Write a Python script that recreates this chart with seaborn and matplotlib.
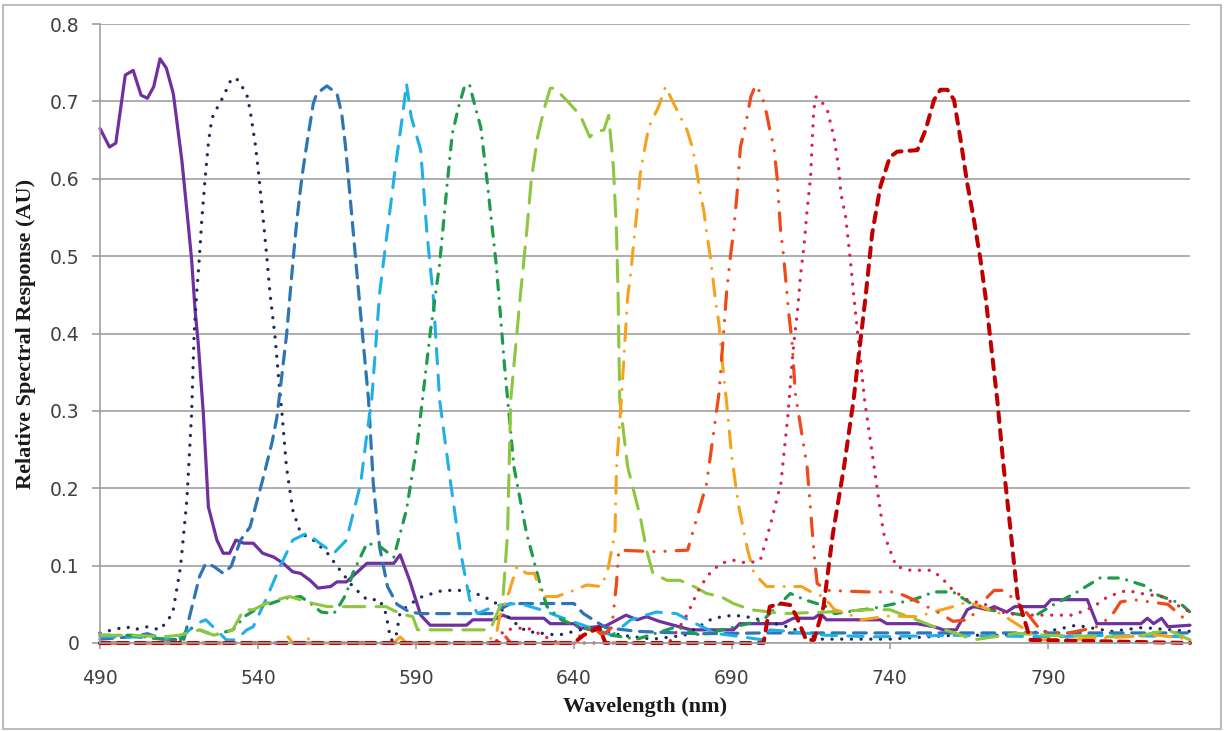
import numpy as np
import pandas as pd
import matplotlib
matplotlib.use("Agg")
import matplotlib.pyplot as plt
from matplotlib.patches import Rectangle
import seaborn as sns

# (wavelength nm, relative response)
purple = [(490, .665), (493, .641), (495, .646), (498, .734), (500.5, .740), (503, .708), (505, .704),
          (507, .719), (509, .755), (511, .743), (513.2, .71), (515.9, .624), (518, .538), (519, .495),
          (520.1, .43), (521.1, .387), (522.7, .297), (524.3, .176), (527, .133), (529, .116), (531, .116),
          (533, .133), (535.5, .129), (538.5, .129),
          (541.5, .116), (545, .111), (548, .103), (551, .092), (553.5, .090), (556.5, .081), (559, .071),
          (563, .073), (565, .079), (568, .079), (571, .090), (574.5, .103), (578.5, .103), (583, .103),
          (585, .114), (588, .081), (591.5, .036), (594.5, .023), (606, .023), (608, .030), (614.5, .030),
          (617.5, .036), (620, .032), (630.5, .032), (632.5, .025), (640, .025), (642, .019), (650, .022),
          (656.5, .036), (660, .030), (663, .034), (667, .028), (677, .017), (690.5, .017), (692.5, .025),
          (706, .025), (709.5, .032), (716, .032), (718, .038), (720, .030), (737, .030), (739, .025),
          (748.5, .025), (754, .021), (757, .017), (761, .017), (764.5, .043), (766.5, .047), (771, .043),
          (773, .047), (777, .040), (779.5, .047), (789, .047), (791, .056), (802.5, .056), (805.5, .025),
          (819.5, .025), (821.5, .032), (823.5, .025), (826, .032), (828, .021), (835, .023)]

navy = [(490, .013), (494, .017), (498.5, .021), (500.5, .017), (505, .021), (509, .017), (513, .038),
        (515.5, .099), (517.5, .185), (519, .297), (519.8, .40), (520.6, .452), (521.4, .495), (522.2, .546),
        (523.3, .602), (524.3, .646), (525.4, .678), (527, .691), (529, .706), (531.7, .73), (533.5, .728),
        (536.4, .71), (537.5, .689), (539.1, .646), (540.1, .611), (541.7, .546), (542.8, .499),
        (543.8, .452), (545.4, .396), (546.5, .344), (547.6, .297), (549, .228),
        (551, .172), (553.5, .142), (557.5, .133), (562, .116), (566, .094), (570, .073), (574.5, .056),
        (578.5, .056), (580.5, .038), (582, .004), (583.5, .004), (585, .04), (588, .05), (592, .06),
        (598.5, .068), (606, .068), (611.5, .06), (615.5, .051), (620, .03), (625, .015), (635, .01),
        (645, .02), (655, .01), (665, .005), (675, .01), (684, .032), (690.5, .036), (696, .033),
        (707.5, .021), (718, .005), (740, .005), (760, .01), (775, .01), (790, .015), (799, .023),
        (810, .015), (820, .02), (835, .015)]

blue = [(490, .005), (500, .008), (505, .012), (510, .005), (516.5, .004), (521.5, .086), (523.5, .103),
        (526, .099), (529, .090), (531.5, .099), (534.5, .133), (537.5, .150), (541.5, .211), (544.5, .26),
        (546, .292), (547.5, .344), (549.1, .40), (550.2, .452), (551.2, .499), (552.3, .546), (553.9, .602),
        (555.5, .646), (557.5, .697), (558.6, .71), (561.8, .72), (565, .71), (566.5, .684), (567.6, .646),
        (568.6, .602), (572, .447), (575, .314), (576.5, .206), (578.5, .124), (581, .073), (584, .05),
        (588, .04), (591.5, .038), (614, .038), (620, .051), (633, .051), (640, .051), (643, .038),
        (650, .02), (660, .015), (680, .012), (700, .013), (720, .013), (760, .013), (800, .013), (835, .013)]

light_blue = [(490, .008), (500, .008), (510, .005), (516, .008), (520.5, .025), (523.5, .030), (526, .020),
              (530, .004), (533, .004), (536.5, .017), (538.5, .021), (542.5, .056), (547, .099),
              (551, .133), (555.5, .142), (559.5, .129), (564, .116), (568, .133), (572.5, .206),
              (574.5, .271), (576, .314), (578.5, .452), (581, .534), (583.5, .615), (586, .689),
              (587, .723), (588.5, .680), (591.5, .637), (593.5, .529), (595.5, .447), (597.5, .314),
              (601, .206), (604, .120), (607, .056), (609.5, .038), (614.5, .047), (618, .05), (623, .051),
              (629.5, .043), (638, .03), (645, .02), (652, .01), (658, .03), (666, .040), (672.5, .038),
              (677, .028), (685, .0125), (700, .004), (702, .017), (708, .015), (720, .01), (735, .008),
              (760, .01), (790, .008), (810, .01), (835, .008)]

green = [(490, .01), (500, .01), (510, .005), (515.5, .004), (518, .02), (521.5, .017), (526, .01),
         (532, .017), (536, .035), (540, .045), (544, .051), (549, .058), (553.5, .060), (557, .05),
         (560, .04), (564, .038), (566, .05), (568, .064), (570, .090), (574.5, .129), (578.5, .125),
         (583, .111), (587, .172), (590.5, .26), (594.5, .40), (597.5, .49), (600, .598), (601.5, .658),
         (603.5, .693), (605.5, .721), (607, .721), (608.5, .697), (610.5, .667), (612.5, .598),
         (615.5, .486), (618, .36), (621, .228), (625, .142), (629.5, .073), (631.5, .047), (636, .03),
         (642, .02), (648, .015), (652, .01), (660, .005), (672.5, .021), (680, .01), (690, .02),
         (700, .03), (708.5, .064), (713, .056), (720, .047), (722.5, .038), (735, .045), (747.5, .056),
         (754, .066), (760, .066), (768, .045), (776, .04), (785.5, .034), (792, .05), (798.5, .064),
         (806.5, .084), (813, .084), (821.5, .073), (823.5, .064), (832, .051), (835, .04)]

light_green = [(490, .01), (500.5, .01), (510, .008), (515, .01), (521.5, .017), (526, .01), (532, .017),
               (535.5, .043), (538.5, .043), (542.5, .051), (546, .056), (550, .06), (557.5, .051),
               (562, .047), (580.5, .047), (585, .038), (589, .034), (590.5, .017), (613.5, .017),
               (617.5, .056), (619, .142), (620, .314), (623, .447), (625, .529), (626.5, .598),
               (628.5, .654), (630.5, .689), (632.5, .717), (634, .717), (638, .700), (642, .682),
               (645, .654), (647, .661), (649.5, .663), (651, .682), (652.5, .615), (653.5, .529),
               (654, .447), (654.5, .314), (657, .228), (661, .163), (663, .120), (665, .090), (669.5, .081),
               (673.5, .081), (678, .073), (682, .064), (686.5, .060), (690.5, .051), (696, .043),
               (706.5, .038), (720, .04), (733, .043), (740, .043), (748.5, .030), (754, .021), (761, .0125),
               (766.5, .004), (773, .008), (780, .0125), (790, .01), (810, .008), (820, .01), (828, .017),
               (835, .004)]

orange = [(490, 0), (548, 0), (549.5, .008), (551, 0), (554, 0), (555.5, .008), (557, 0), (583, 0),
          (585, .008), (587, 0), (612, 0), (615.5, .0125), (616.5, .034), (619, .06), (622, .099),
          (625, .09), (627.5, .090), (630, .06), (634.5, .060), (640, .068), (644, .075), (648.5, .073),
          (650.5, .090), (653, .142), (653.5, .228), (655, .314), (657, .447), (658, .478), (659, .521),
          (660, .559), (661, .607), (662.5, .641), (663.7, .667), (666.8, .693), (669, .719), (671.6, .697),
          (675.8, .663), (677.4, .642), (678.5, .620), (680, .581), (681.1, .559), (682.2, .525),
          (683.2, .499), (684.8, .443), (685.9, .413), (686.9, .366), (688.3, .312), (690, .24),
          (692, .18), (695, .120), (697, .090), (701, .073), (712, .073), (716, .064),
          (719, .06), (722.5, .043), (726.5, .038), (731, .030), (740, .035), (748.5, .034), (760, .047),
          (764.5, .053), (775, .038), (781.5, .021), (787.5, .004), (800, .005), (815, .008), (825, .01),
          (835, .005)]

red_orange = [(490, 0), (615, 0), (618, .01), (620, 0), (640, 0), (643, .015), (646, .02), (649, .01),
              (652, .02), (653.5, .078), (654.2, .12), (666, .118), (676, .120), (682, .206), (685.9, .322),
              (687.2, .391), (688.3, .452), (689.4, .495), (690.6, .534), (691.6, .579), (692.7, .641),
              (694, .663), (695, .684), (696, .706), (697.5, .721), (699.5, .708), (701, .684), (702, .663),
              (703.3, .641), (704.3, .602), (705.4, .534), (706.4, .499), (708, .426), (709, .391),
              (710.1, .322), (713.8, .228),
              (716, .116), (717, .077), (720, .068), (733, .066), (742, .066), (748, .055), (756, .038),
              (760, .028), (765, .03), (771, .06), (773, .068), (776, .068), (779.5, .056), (783.5, .038),
              (788, .015), (796, .0125), (805, .02), (810, .034), (813, .053), (817, .056), (828, .05),
              (835, .025)]

crimson = [(490, 0), (615, 0), (618, .017), (625, .02), (630, .01), (635, 0), (670, 0), (673.5, .021),
           (676, .038), (678, .056), (680, .073), (683, .090), (686.5, .103), (690.5, .107), (695, .103),
           (699, .107), (702, .150), (705.5, .206), (707.8, .297), (708.6, .34), (709.6, .387), (710.7, .426),
           (711.8, .478), (712.8, .512), (713.8, .559), (714.9, .602), (715.4, .646), (715.9, .689),
           (716.7, .706), (718, .702), (720.2, .689), (722.3, .654), (723.9, .611), (724.5, .581),
           (726, .551), (727.5, .495), (728.5, .452), (732, .314), (735, .228),
           (738, .142), (742, .099), (746.5, .094), (753, .094), (756, .086), (760, .068), (764.5, .056),
           (770, .05), (777, .038), (784, .036), (792, .036), (798, .036), (804.5, .047), (809, .060),
           (815, .068), (819.5, .064), (826, .060), (830, .051), (835, .04)]

dark_red = [(490, 0), (640, 0), (643, .01), (648, .02), (650, 0), (700, 0), (702, .047), (705.5, .051),
            (708.5, .049), (710.5, .034), (713.5, .004), (716, .004), (719, .047), (722, .142), (725.5, .228),
            (728.5, .314), (732.3, .447), (734.4, .529), (737, .590), (740, .628), (742.3, .635),
            (748.7, .637), (751.3, .663), (754, .702), (756, .715), (758.2, .715), (760.3, .702),
            (762.4, .650), (764.5, .594), (766.6, .547), (768.7, .495), (770.3, .447), (774, .314),
            (776, .228), (778.3, .142), (780.4, .060), (784.5, .004), (835, 0)]

x_ticks = [490, 540, 590, 640, 690, 740, 790]
y_ticks = [0, 0.1, 0.2, 0.3, 0.4, 0.5, 0.6, 0.7, 0.8]

# data, colour, dash pattern (linewidth units, round caps; None = solid), linewidth
styles = [
    (purple, "#7030A0", None, 2.3),
    (navy, "#1F2A5C", (0.01, 2.9), 2.4),
    (blue, "#2E75B6", (4, 2.7), 2.3),
    (light_blue, "#1FB0E8", (5, 3.7), 2.2),
    (green, "#1E9B4B", (3, 2.7, 0.01, 2.7), 2.3),
    (light_green, "#8DC63F", (7, 3.7), 2.2),
    (orange, "#F7A21B", (5.5, 3.5, 0.01, 3.5), 2.2),
    (red_orange, "#F04A1A", (5.5, 3.5, 0.01, 3.5, 0.01, 3.5), 2.3),
    (crimson, "#E0204A", (0.01, 2.9), 2.4),
    (dark_red, "#C00000", (2.4, 2.0), 2.9),
]

sns.set_theme(style="white")
plt.rcParams["font.family"] = ["DejaVu Sans"]

fig = plt.figure(figsize=(12.25, 7.31), dpi=100)
ax = fig.add_axes([100 / 1225, 1 - 643 / 731, 1090 / 1225, 619 / 731])

GRID = "#A0A0A0"
for pts, color, dash, lw in styles:
    df = pd.DataFrame(pts, columns=["nm", "resp"])
    kw = dict(color=color, linewidth=lw, clip_on=False)
    if dash is not None:
        kw["linestyle"] = (0, dash)
        kw["dash_capstyle"] = "round"
    sns.lineplot(data=df, x="nm", y="resp", ax=ax, estimator=None, sort=False, **kw)

ax.set_xlim(490, 835)
ax.set_ylim(0, 0.8)
ax.set_xticks(x_ticks)
ax.set_yticks(y_ticks)
ax.set_yticklabels(["0" if v == 0 else f"{v:.1f}" for v in y_ticks])
ax.yaxis.grid(True, color=GRID, linewidth=1.2)
ax.xaxis.grid(False)
ax.set_axisbelow(True)
for s in ["top", "right"]:
    ax.spines[s].set_visible(False)
for s in ["left", "bottom"]:
    ax.spines[s].set_color(GRID)
    ax.spines[s].set_linewidth(1.2)
ax.tick_params(axis="y", which="major", left=True, length=6, width=1.2, color=GRID,
               pad=9, labelsize=13.5, labelcolor="#404040")
ax.tick_params(axis="x", which="major", bottom=True, length=4, width=1.2, color=GRID,
               pad=15, labelsize=13.5, labelcolor="#404040")

ax.set_xlabel("Wavelength (nm)", family="Liberation Serif", fontweight="bold",
              fontsize=16, color="#1a1a1a", labelpad=6)
ax.set_ylabel("Relative Spectral Response (AU)", family="Liberation Serif", fontweight="bold",
              fontsize=16, color="#1a1a1a", labelpad=10)

fig.patches.append(Rectangle((3 / 1225, 2 / 731), 1218 / 1225, 724 / 731, transform=fig.transFigure,
                             fill=False, edgecolor="#BDBDBD", linewidth=1.5))

fig.savefig("out.png", dpi=100)
